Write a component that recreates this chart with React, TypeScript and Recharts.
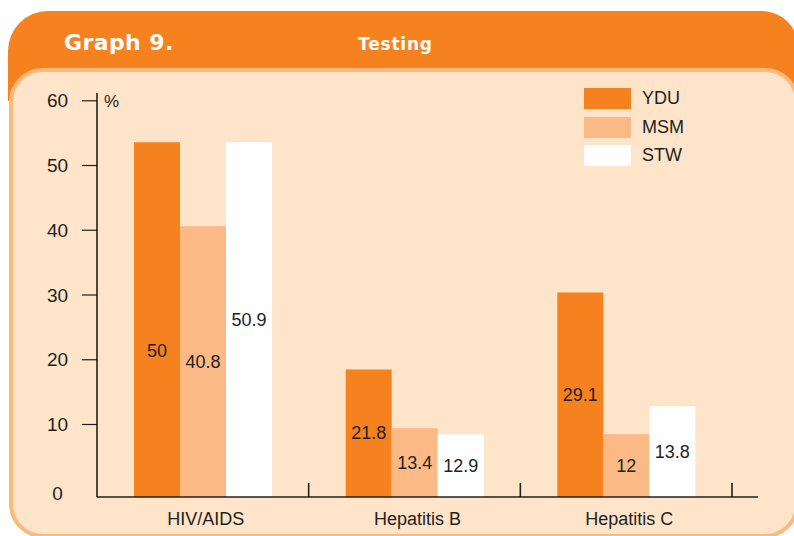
import { BarChart, Bar, XAxis, YAxis } from 'recharts'

const categories = ['HIV/AIDS', 'Hepatitis B', 'Hepatitis C']
// bar heights as drawn in the picture
const yduValues = [53.6, 18.5, 30.4]
const msmValues = [40.6, 9.4, 8.5]
const stwValues = [53.6, 8.5, 12.8]
// numbers printed on the bars
const yduLabels = ['50', '21.8', '29.1']
const msmLabels = ['40.8', '13.4', '12']
const stwLabels = ['50.9', '12.9', '13.8']
const yTicks = [0, 10, 20, 30, 40, 50, 60]

const ORANGE = '#F5821F'
const PEACH = '#FBBA85'
const PANEL = '#FEE4C9'
const INK = '#231F20'
const FONT = '"Liberation Sans", Arial, sans-serif'

// the x axis sits a bit under the 0 tick in the original
const AXIS_MIN = -1.2
const AXIS_MAX = 61.2

const W = 794
const H = 536
const LEFT = 97
const TOP = 93
const RIGHT_MARGIN = 36
const RIGHT_PAD = 26
const X_AXIS_H = 39
const BAND = (W - LEFT - RIGHT_MARGIN - RIGHT_PAD) / categories.length

const data = categories.map((name, i) => ({
  name,
  ydu: yduValues[i],
  msm: msmValues[i],
  stw: stwValues[i],
}))

const series = [
  { key: 'ydu', name: 'YDU', color: ORANGE, labels: yduLabels, dy: [31, 0, 0] },
  { key: 'msm', name: 'MSM', color: PEACH, labels: msmLabels, dy: [0, 0, 0] },
  { key: 'stw', name: 'STW', color: '#FFFFFF', labels: stwLabels, dy: [0, 0, 0] },
]

const barLabel = (labels: string[], dy: number[]) => (props: any) => {
  const { x, y, width, height, index } = props
  return (
    <text
      x={x + width / 2}
      y={y + height / 2 + dy[index]}
      textAnchor="middle"
      dominantBaseline="central"
      fontSize={18}
      fontFamily={FONT}
      fill={INK}
    >
      {labels[index]}
    </text>
  )
}

const YTick = (props: any) => {
  const { x, y, payload } = props
  const zero = payload.value === 0
  return (
    <g>
      {!zero && <line x1={x - 15} x2={x} y1={y} y2={y} stroke={INK} strokeWidth={1.2} />}
      <text
        x={57.5}
        y={zero ? y + 4 : y}
        textAnchor="middle"
        dominantBaseline="central"
        fontSize={19}
        fontFamily={FONT}
        fill={INK}
      >
        {payload.value}
      </text>
    </g>
  )
}

const XTick = (props: any) => {
  const { x, y, payload } = props
  return (
    <g>
      <line x1={x + BAND / 2} x2={x + BAND / 2} y1={y - 14} y2={y} stroke={INK} strokeWidth={1.6} />
      <text
        x={x + 3}
        y={y + 22}
        textAnchor="middle"
        dominantBaseline="central"
        fontSize={18}
        fontFamily={FONT}
        fill={INK}
      >
        {payload.value}
      </text>
    </g>
  )
}

export default function App() {
  return (
    <div style={{ position: 'absolute', left: 0, top: 0, width: W, height: H, overflow: 'hidden', background: '#fff' }}>
      {/* orange header */}
      <div
        style={{
          position: 'absolute',
          left: 8,
          top: 11,
          width: 790,
          height: 90,
          background: ORANGE,
          borderRadius: '40px 36px 0 0',
        }}
      />
      <div
        style={{
          position: 'absolute',
          left: 64,
          top: 30,
          color: '#fff',
          fontFamily: '"DejaVu Sans", sans-serif',
          fontWeight: 'bold',
          fontSize: 22,
          letterSpacing: 0.4,
        }}
      >
        Graph 9.
      </div>
      <div
        style={{
          position: 'absolute',
          left: 358,
          top: 34,
          color: '#fff',
          fontFamily: '"DejaVu Sans", sans-serif',
          fontWeight: 'bold',
          fontSize: 17,
          letterSpacing: 0.8,
        }}
      >
        Testing
      </div>
      {/* chart panel */}
      <div
        style={{
          position: 'absolute',
          left: 9,
          top: 68,
          width: 782,
          height: 462,
          background: PANEL,
          border: '4px solid #FCB97C',
          borderRadius: 34,
        }}
      />
      <div style={{ position: 'absolute', left: 0, top: 0 }}>
        <BarChart
          width={W}
          height={H}
          data={data}
          margin={{ top: TOP, right: RIGHT_MARGIN, bottom: 0, left: 0 }}
          barGap={0}
          barSize={46}
        >
          <XAxis
            dataKey="name"
            height={X_AXIS_H}
            padding={{ left: 0, right: RIGHT_PAD }}
            axisLine={{ stroke: INK, strokeWidth: 1.6 }}
            tickLine={false}
            tickSize={0}
            tickMargin={0}
            tick={<XTick />}
            interval={0}
          />
          <YAxis
            type="number"
            width={LEFT}
            domain={[AXIS_MIN, AXIS_MAX]}
            ticks={yTicks}
            allowDataOverflow
            axisLine={{ stroke: INK, strokeWidth: 1.6 }}
            tickLine={false}
            tickSize={0}
            tickMargin={0}
            tick={<YTick />}
            interval={0}
          />
          {series.map((s) => (
            <Bar
              key={s.key}
              name={s.name}
              dataKey={(d: any) => [AXIS_MIN, d[s.key]]}
              fill={s.color}
              isAnimationActive={false}
              label={barLabel(s.labels, s.dy)}
            />
          ))}
        </BarChart>
      </div>
      <div style={{ position: 'absolute', left: 104, top: 92, fontFamily: FONT, fontSize: 17, color: INK }}>%</div>
      {/* legend */}
      <div style={{ position: 'absolute', left: 584, top: 88, fontFamily: FONT, fontSize: 18, color: INK }}>
        {series.map((s) => (
          <div key={s.key} style={{ display: 'flex', alignItems: 'center', height: 21, marginBottom: 7.5 }}>
            <div style={{ width: 47, height: 21, background: s.color }} />
            <span style={{ marginLeft: 11 }}>{s.name}</span>
          </div>
        ))}
      </div>
    </div>
  )
}
